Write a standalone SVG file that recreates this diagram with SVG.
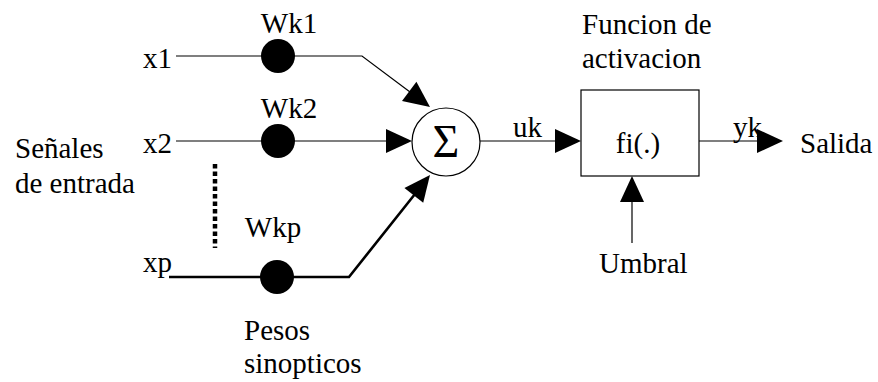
<svg xmlns="http://www.w3.org/2000/svg" width="878" height="382" viewBox="0 0 878 382" font-family="'Liberation Serif', serif" font-size="29">
  <defs>
    <!-- filled triangular arrowhead shared by all connectors -->
    <polygon id="head" points="0,0 -26,-12 -26,12" fill="#000"/>
  </defs>

  <!-- connectors -->
  <g id="connectors" fill="none" stroke="#000" stroke-width="1.2">
    <polyline points="176,56 362,56 410,92"/>
    <use href="#head" stroke="none" transform="translate(430,107) rotate(36.9)"/>
    <line x1="176" y1="141" x2="390" y2="141"/>
    <use href="#head" stroke="none" transform="translate(412,141)"/>
    <line x1="215" y1="164" x2="215" y2="248" stroke-width="4.5" stroke-dasharray="4.5,3"/>
    <polyline points="169,277 349,277 415,194" stroke-width="2.6"/>
    <use href="#head" stroke="none" transform="translate(430,175) rotate(-51.5)"/>
    <line x1="480" y1="141" x2="558" y2="141"/>
    <use href="#head" stroke="none" transform="translate(581,141)"/>
    <line x1="699" y1="141" x2="760" y2="141"/>
    <use href="#head" stroke="none" transform="translate(783,141)"/>
    <line x1="632" y1="243" x2="632" y2="200"/>
    <use href="#head" stroke="none" transform="translate(632,176) rotate(-90)"/>
  </g>

  <!-- input labels -->
  <g id="inputs">
    <text x="143" y="68">x1</text>
    <text x="143" y="153">x2</text>
    <text x="143" y="272">xp</text>
    <text x="15" y="158">Señales</text>
    <text x="15" y="193">de entrada</text>
  </g>

  <!-- synaptic weights -->
  <g id="weight-1">
    <circle cx="278" cy="56" r="17"/>
    <text x="289" y="33" text-anchor="middle">Wk1</text>
  </g>
  <g id="weight-2">
    <circle cx="278" cy="141" r="17"/>
    <text x="289" y="118" text-anchor="middle">Wk2</text>
  </g>
  <g id="weight-p">
    <circle cx="277" cy="277" r="17"/>
    <text x="273" y="237" text-anchor="middle">Wkp</text>
  </g>
  <g id="weights-label">
    <text x="244" y="340">Pesos</text>
    <text x="244" y="373">sinopticos</text>
  </g>

  <!-- summing junction -->
  <g id="sum">
    <circle cx="446" cy="142" r="34" fill="#fff" stroke="#000" stroke-width="1.2"/>
    <text x="446" y="157" text-anchor="middle" font-size="46">Σ</text>
  </g>
  <text x="513" y="137">uk</text>

  <!-- activation function -->
  <g id="activation">
    <rect x="581" y="90" width="118" height="86" fill="#fff" stroke="#000" stroke-width="1.2"/>
    <text x="638" y="153" text-anchor="middle">fi(.)</text>
    <text x="582" y="34">Funcion de</text>
    <text x="582" y="68">activacion</text>
  </g>

  <g id="threshold">
    <text x="599" y="273">Umbral</text>
  </g>

  <g id="output">
    <text x="733" y="137">yk</text>
    <text x="800" y="153">Salida</text>
  </g>
</svg>
